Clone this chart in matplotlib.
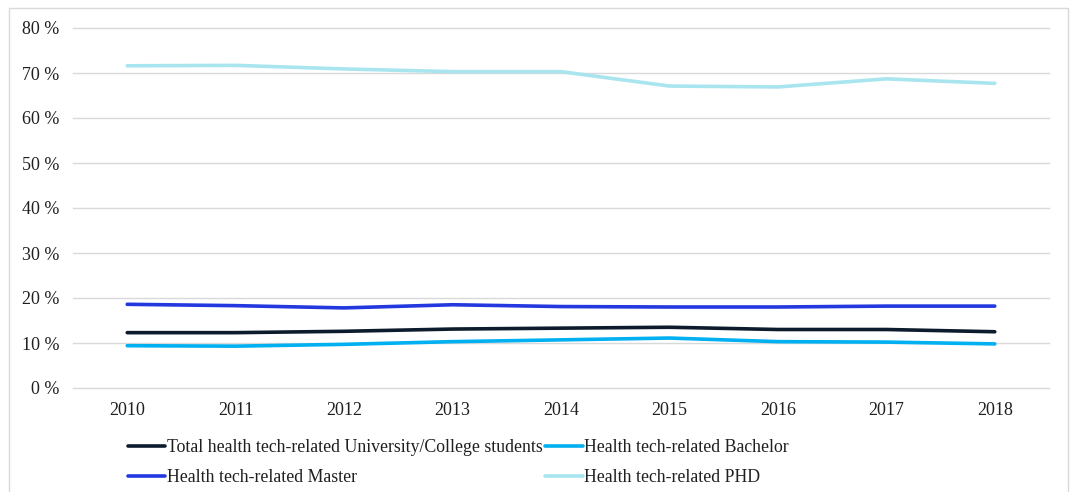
import matplotlib
matplotlib.use("Agg")
import matplotlib.pyplot as plt
from matplotlib.patches import Rectangle

years = [2010, 2011, 2012, 2013, 2014, 2015, 2016, 2017, 2018]

total = [12.3, 12.3, 12.6, 13.1, 13.3, 13.5, 13.0, 13.0, 12.5]
bachelor = [9.4, 9.3, 9.7, 10.3, 10.7, 11.1, 10.3, 10.2, 9.8]
master = [18.6, 18.3, 17.8, 18.5, 18.1, 18.0, 18.0, 18.2, 18.2]
phd = [71.6, 71.7, 70.9, 70.3, 70.3, 67.1, 66.9, 68.7, 67.7]

labels = [
    "Total health tech-related University/College students",
    "Health tech-related Bachelor",
    "Health tech-related Master",
    "Health tech-related PHD",
]
colors = ["#0c1c2c", "#00b0f0", "#2438e0", "#a9e5ee"]

yticks = [0, 10, 20, 30, 40, 50, 60, 70, 80]
ytick_labels = [f"{v} %" for v in yticks]

plt.rcParams["font.family"] = ["Liberation Serif", "DejaVu Serif"]
text_color = "#1f1f1f"

fig = plt.figure(figsize=(10.71, 4.92), dpi=100)
ax = fig.add_axes([73 / 1071, 1 - 388 / 492, (1049 - 73) / 1071, (388 - 28) / 492])

# chart frame around the whole figure
fig.patches.append(Rectangle((9 / 1071, -0.05), (1068 - 9) / 1071, 1.05 - 8 / 492,
                             transform=fig.transFigure, fill=False,
                             edgecolor="#d9d9d9", linewidth=1.0))

series = [total, bachelor, master, phd]
handles = []
for vals, lab, col in zip(series, labels, colors):
    h, = ax.plot(years, vals, color=col, linewidth=2.6, label=lab,
                 solid_capstyle="round", solid_joinstyle="round")
    handles.append(h)

ax.set_xlim(2009.5, 2018.5)
ax.set_ylim(0, 80)
ax.set_yticks(yticks)
ax.set_yticklabels(ytick_labels)
ax.set_xticks(years)
ax.set_xticklabels([str(y) for y in years])
ax.yaxis.grid(True, color="#d9d9d9", linewidth=1.0)
for gl in ax.get_ygridlines():
    gl.set_clip_on(False)
ax.set_axisbelow(True)
for s in ax.spines.values():
    s.set_visible(False)
ax.tick_params(axis="both", length=0, labelsize=13, colors=text_color)
ax.tick_params(axis="y", pad=10)
ax.tick_params(axis="x", pad=10)

# legend reads row by row: Total, Bachelor / Master, PHD
order = [0, 2, 1, 3]
leg = fig.legend(handles=[handles[i] for i in order],
                 labels=[labels[i] for i in order], ncol=2, loc="upper left",
                 bbox_to_anchor=(128 / 1071, 1 - 439 / 492), frameon=False,
                 fontsize=12.75, handlelength=2.1, handletextpad=0.1,
                 columnspacing=0.15, labelspacing=0.72, borderaxespad=0,
                 borderpad=0)
for t in leg.get_texts():
    t.set_color(text_color)
for lh in leg.get_lines():
    lh.set_linewidth(2.6)

fig.savefig("out.png", dpi=100)
